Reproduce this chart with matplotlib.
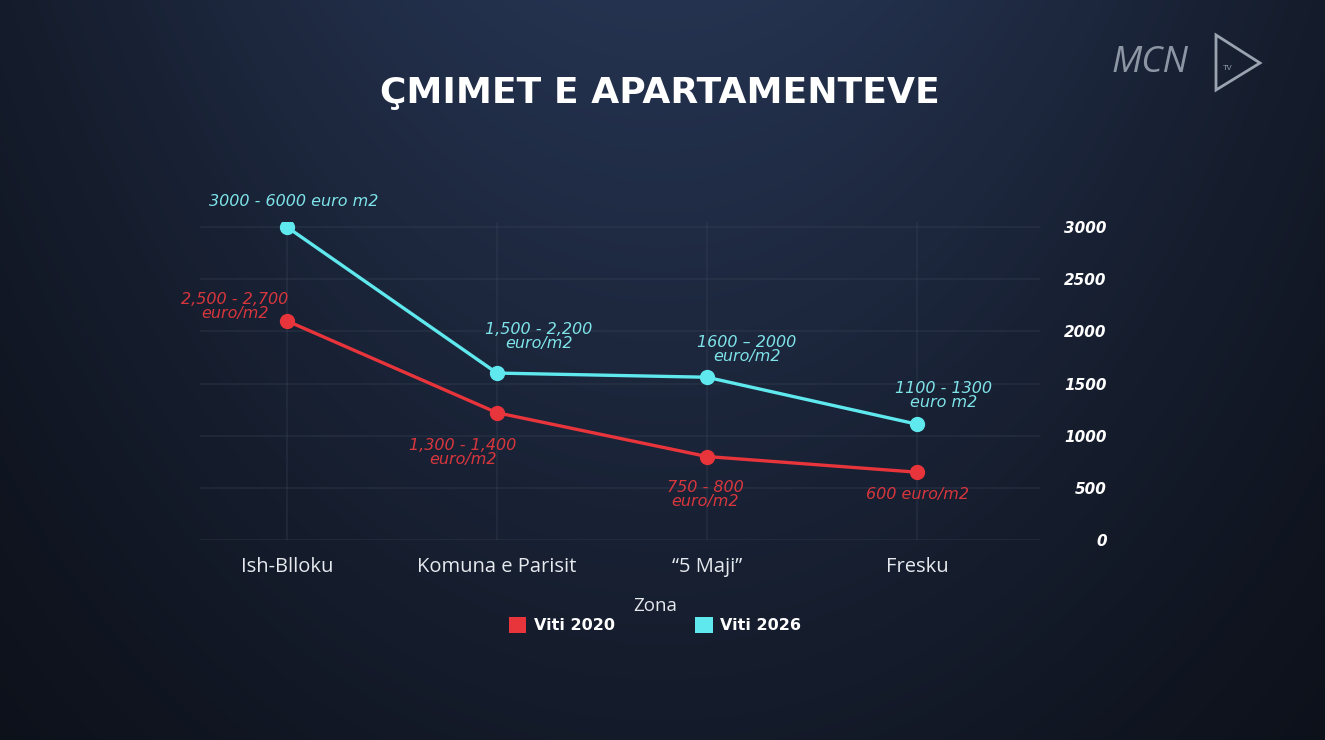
import numpy as np
import matplotlib
matplotlib.use("Agg")
import matplotlib.pyplot as plt
from matplotlib.patches import Patch, Polygon

# ---- data ----
zones = ["Ish-Blloku", "Komuna e Parisit", "\u201c5 Maji\u201d", "Fresku"]
viti_2020 = [2100, 1220, 800, 650]
viti_2026 = [3000, 1600, 1560, 1110]
labels_2020 = ["2,500 - 2,700\neuro/m2", "1,300 - 1,400\neuro/m2", "750 - 800\neuro/m2", "600 euro/m2"]
labels_2026 = ["3000 - 6000 euro m2", "1,500 - 2,200\neuro/m2", "1600 \u2013 2000\neuro/m2", "1100 - 1300\neuro m2"]
yticks = [0, 500, 1000, 1500, 2000, 2500, 3000]
series_names = ["Viti 2020", "Viti 2026"]
title = "\u00c7MIMET E APARTAMENTEVE"
legend_title = "Zona"

RED = "#e8343b"
CYAN = "#5fe9ee"
RED_TXT = "#d8363d"
CYAN_TXT = "#7ee4e9"
FONT = "Open Sans"
WIDE = "DejaVu Sans"

W, H = 1325, 740
fig = plt.figure(figsize=(W / 100, H / 100), dpi=100)

# background gradient
bg = fig.add_axes([0, 0, 1, 1], zorder=-10)
yy, xx = np.mgrid[0:1:300j, 0:1:500j]
g = np.exp(-((xx - 0.5) / 0.55) ** 2) * (1 - 0.6 * yy)
dark = np.array([8, 10, 15]) / 255
light = np.array([37, 51, 80]) / 255
img = dark[None, None, :] + (light - dark)[None, None, :] * g[..., None]
bg.imshow(img, aspect="auto", extent=[0, 1, 0, 1], origin="upper")
bg.axis("off")

# main axes
ax_left, ax_right = 200, 1040
ax_bottom = 540
ymax = 3050
px_per_unit = (540 - 227) / 3000
ax_h = ymax * px_per_unit
ax = fig.add_axes([ax_left / W, 1 - ax_bottom / H, (ax_right - ax_left) / W, ax_h / H])
ax.set_facecolor("none")
x = np.arange(len(zones))
ax.set_xlim(-0.414, 3.586)
ax.set_ylim(0, ymax)

for s in ax.spines.values():
    s.set_visible(False)
ax.set_yticks(yticks)
ax.grid(True, color="#3a4558", alpha=0.35, linewidth=1.2)
ax.set_axisbelow(True)
ax.yaxis.tick_right()
ax.tick_params(axis="y", length=0, pad=48, labelsize=11, labelcolor="white")
for t in ax.get_yticklabels():
    t.set_horizontalalignment("right")
    t.set_fontstyle("oblique")
    t.set_fontweight("bold")
    t.set_family(WIDE)
ax.set_xticks(x)
ax.set_xticklabels(zones, fontsize=14.5, color="#e6e9ee", family=FONT)
ax.tick_params(axis="x", length=0, pad=12)

ax.plot(x, viti_2020, color=RED, lw=2.4, marker="o", ms=10, zorder=3)
ax.plot(x, viti_2026, color=CYAN, lw=2.4, marker="o", ms=10, zorder=3)

k = 0.72
off_2020 = [(-52, 14), (-34, -40), (-2, -38), (1, -22)]
off_2026 = [(7, 26), (42, 37), (40, 28), (27, 29)]
for i in range(len(zones)):
    ax.annotate(labels_2020[i], (x[i], viti_2020[i]), xytext=(off_2020[i][0] * k, off_2020[i][1] * k),
                textcoords="offset points", ha="center", va="center", color=RED_TXT,
                fontsize=11.5, fontstyle="oblique", family=WIDE, linespacing=0.92,
                annotation_clip=False)
    ax.annotate(labels_2026[i], (x[i], viti_2026[i]), xytext=(off_2026[i][0] * k, off_2026[i][1] * k),
                textcoords="offset points", ha="center", va="center", color=CYAN_TXT,
                fontsize=11.5, fontstyle="oblique", family=WIDE, linespacing=0.92,
                annotation_clip=False)

# title
fig.text(660 / W, 1 - 93 / H, title, ha="center", va="center", color="white",
         fontsize=26, fontweight="bold", family=WIDE)

# legend
handles = [Patch(facecolor=RED, edgecolor="none"), Patch(facecolor=CYAN, edgecolor="none")]
leg = fig.legend(handles, series_names, title=legend_title, loc="center",
                 bbox_to_anchor=(655 / W, 1 - 615 / H), ncol=2, frameon=False,
                 handlelength=1.1, handleheight=1.1, handletextpad=0.5, columnspacing=5.0,
                 prop={"family": WIDE, "weight": "bold", "size": 11.5},
                 title_fontproperties={"family": FONT, "size": 13.5}, labelcolor="white")
leg.get_title().set_color("#e6e9ee")
leg._legend_box.sep = 2

# logo
fig.text(1112 / W, 1 - 63 / H, "MCN", ha="left", va="center", color="#9aa3b0",
         fontsize=26, family=FONT, fontstyle="italic", alpha=0.9)
tri = Polygon([[1216 / W, 1 - 35 / H], [1216 / W, 1 - 90 / H], [1260 / W, 1 - 63 / H]],
              closed=True, fill=False, edgecolor="#9aa3b0", lw=2, transform=fig.transFigure)
fig.add_artist(tri)
fig.text(1223 / W, 1 - 68 / H, "TV", ha="left", va="center", color="#9aa3b0", fontsize=6, family=FONT)

fig.savefig("out.png", dpi=100)
